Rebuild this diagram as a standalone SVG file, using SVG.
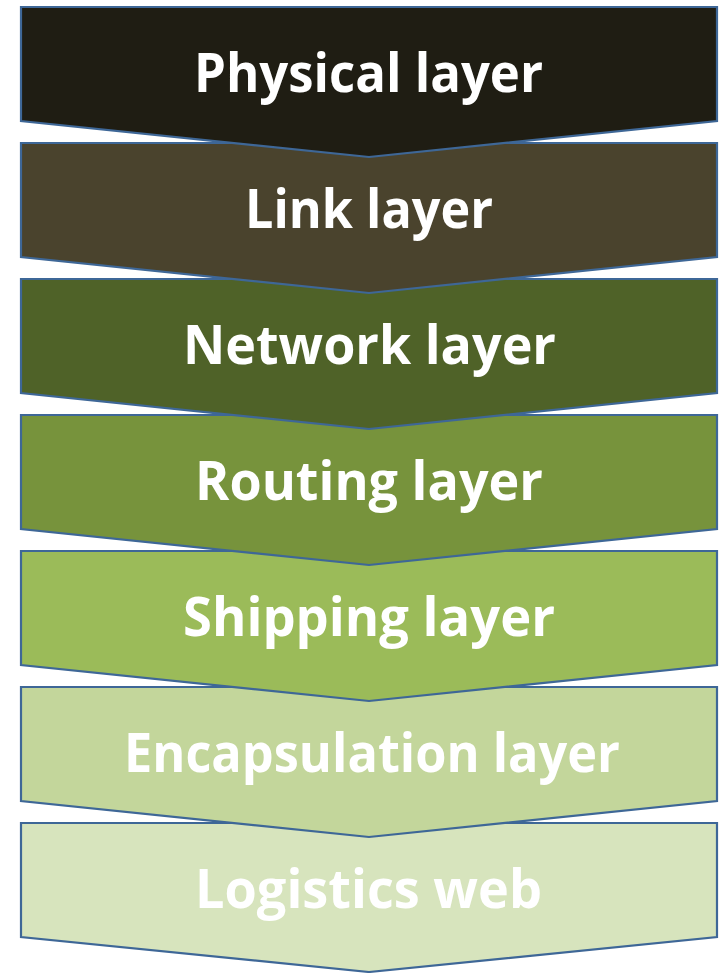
<svg xmlns="http://www.w3.org/2000/svg" width="725" height="973" viewBox="0 0 725 973">
<style>
.s{stroke:#3E6797;stroke-width:2.2;stroke-linejoin:miter}
.t{font-family:"Open Sans","Liberation Sans",sans-serif;font-weight:bold;font-size:53px;fill:#FFFFFF}
</style>
<rect width="725" height="973" fill="#FFFFFF"/>
<g id="logistics"><path class="s" fill="#D7E4BD" d="M21,823 L717,823 L717,937 L369,972 L21,937 Z"/><text class="t" x="195" y="908" textLength="347" lengthAdjust="spacingAndGlyphs">Logistics web</text></g>
<g id="encapsulation"><path class="s" fill="#C3D69B" d="M21,687 L717,687 L717,801 L369,837 L21,801 Z"/><text class="t" x="124" y="772" textLength="496" lengthAdjust="spacingAndGlyphs">Encapsulation layer</text></g>
<g id="shipping"><path class="s" fill="#9BBB59" d="M21,551 L717,551 L717,665 L369,701 L21,665 Z"/><text class="t" x="183" y="636" textLength="372" lengthAdjust="spacingAndGlyphs">Shipping layer</text></g>
<g id="routing"><path class="s" fill="#77933C" d="M21,415 L717,415 L717,529 L369,565 L21,529 Z"/><text class="t" x="195" y="500" textLength="348" lengthAdjust="spacingAndGlyphs">Routing layer</text></g>
<g id="network"><path class="s" fill="#4F6228" d="M21,279 L717,279 L717,393 L369,429 L21,393 Z"/><text class="t" x="183" y="364" textLength="373" lengthAdjust="spacingAndGlyphs">Network layer</text></g>
<g id="link"><path class="s" fill="#4A432D" d="M21,143 L717,143 L717,257 L369,293 L21,257 Z"/><text class="t" x="245" y="228" textLength="248" lengthAdjust="spacingAndGlyphs">Link layer</text></g>
<g id="physical"><path class="s" fill="#1F1D13" d="M21,7 L717,7 L717,121 L369,157 L21,121 Z"/><text class="t" x="194" y="92" textLength="349" lengthAdjust="spacingAndGlyphs">Physical layer</text></g>
<g id="connectors"></g>
</svg>
